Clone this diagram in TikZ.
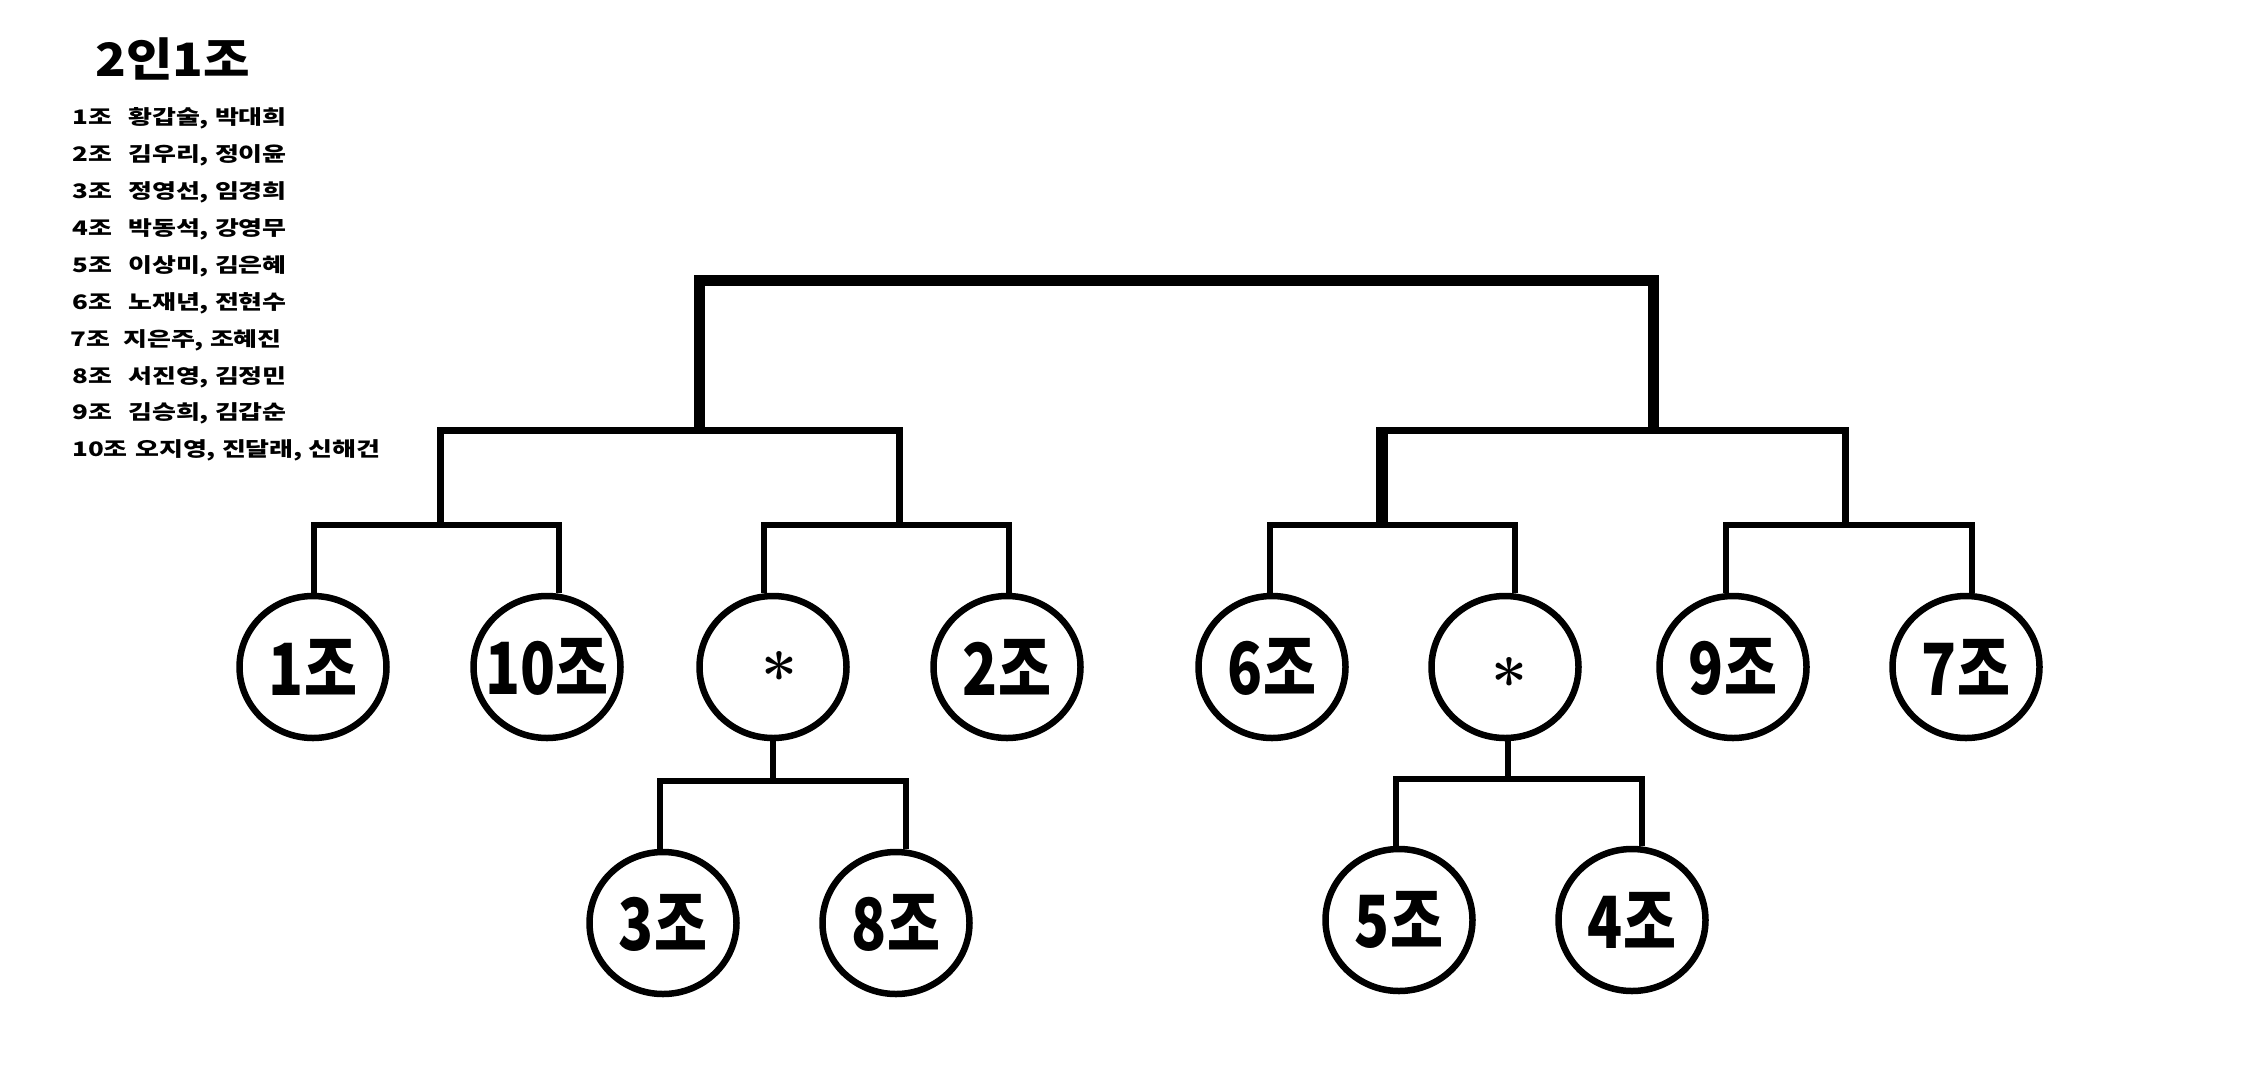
\documentclass[tikz,border=0pt]{standalone}
\usepackage{fontspec}
\usetikzlibrary{shapes.geometric}
\newfontfamily\krlist{Noto Sans CJK KR}[FakeStretch=1.3]
\newfontfamily\krtitle{Noto Sans CJK KR}[FakeStretch=1.1]
\newfontfamily\krcirc{Noto Sans CJK KR}[FakeStretch=0.8]
\newcommand{\tlabel}[1]{\makebox[0pt][c]{#1}}
\begin{document}
\begin{tikzpicture}[x=1pt,y=-1pt,
  team/.style={ellipse, draw, line width=6.5pt, minimum width=147pt, minimum height=142pt,
    inner sep=0pt, font=\krcirc\bfseries\fontsize{72pt}{72pt}\selectfont},
  startext/.style={inner sep=0pt, font=\bfseries\fontsize{64pt}{64pt}\selectfont},
  lvlone/.style={line width=11pt, line join=miter},
  lvltwo/.style={line width=7pt, line join=miter},
  lvlthree/.style={line width=6pt, line join=miter},
  listline/.style={anchor=west, inner sep=0pt, font=\krlist\bfseries\fontsize{20pt}{20pt}\selectfont},
  titletext/.style={anchor=base west, inner sep=0pt, font=\krtitle\bfseries\fontsize{46pt}{46pt}\selectfont}]
\useasboundingbox (0,0) rectangle (2263,1080);
\fill[white] (0,0) rectangle (2263,1080);

% title and list
\node[titletext] (title) at (95,76) {2인1조};
\node[listline] (l1) at (72,118) {\makebox[56pt][l]{1조}황갑술, 박대희};
\node[listline] (l2) at (72,155) {\makebox[56pt][l]{2조}김우리, 정이윤};
\node[listline] (l3) at (72,192) {\makebox[56pt][l]{3조}정영선, 임경희};
\node[listline] (l4) at (72,229) {\makebox[56pt][l]{4조}박동석, 강영무};
\node[listline] (l5) at (72,266) {\makebox[56pt][l]{5조}이상미, 김은혜};
\node[listline] (l6) at (72,303) {\makebox[56pt][l]{6조}노재년, 전현수};
\node[listline] (l7) at (70,340) {\makebox[53pt][l]{7조}지은주, 조혜진};
\node[listline] (l8) at (72,377) {\makebox[56pt][l]{8조}서진영, 김정민};
\node[listline] (l9) at (72,413) {\makebox[56pt][l]{9조}김승희, 김갑순};
\node[listline] (l10) at (72,450) {\makebox[63pt][l]{10조}오지영, 진달래, 신해건};

% team nodes
\node[team] (n1) at (313,667) {\tlabel{1조}};
\node[team] (n10) at (547,667) {\tlabel{10조}};
\node[team] (s1) at (773,667) {};
\node[team] (n2) at (1007,667) {\tlabel{2조}};
\node[team] (n6) at (1272,667) {\tlabel{6조}};
\node[team] (s2) at (1505,667) {};
\node[team] (n9) at (1733,667) {\tlabel{9조}};
\node[team] (n7) at (1966,667) {\tlabel{7조}};
\node[team] (n3) at (663,923) {\tlabel{3조}};
\node[team] (n8) at (896,923) {\tlabel{8조}};
\node[team] (n5) at (1399,920) {\tlabel{5조}};
\node[team] (n4) at (1632,920) {\tlabel{4조}};
\node[startext] (st1) at ([shift={(7,8)}]s1.center) {*};
\node[startext] (st2) at ([shift={(4,14)}]s2.center) {*};

% junctions
\coordinate (T1) at (699.5,430);
\coordinate (T2) at (1653,430);
\coordinate (LA) at (440,525);
\coordinate (LB) at (899,525);
\coordinate (RC) at (1382,525);
\coordinate (RD) at (1845,525);
\coordinate (BL) at (773,781);
\coordinate (BR) at (1508,779);

% top level
\draw[lvlone] (T1) -- ++(0,-150) -| (T2);
% second level
\draw[lvltwo] (LA) -- ++(0,-95) -| (LB);
\draw[lvltwo] (RC) -- ++(0,-95) -| (RD);
\draw[line width=12pt] (RC) -- ++(0,-98.5);
% third level
\draw[lvlthree] ([xshift=1pt]n1.north) |- (LA) -| ([xshift=12pt]n10.north);
\draw[lvlthree] ([xshift=-9pt]s1.north) |- (LB) -| ([xshift=2pt]n2.north);
\draw[lvlthree] ([xshift=-2pt]n6.north) |- (RC) -| ([xshift=10pt]s2.north);
\draw[lvlthree] ([xshift=-7pt]n9.north) |- (RD) -| ([xshift=6pt]n7.north);
% bottom level
\draw[lvlthree] (s1.south) -- (BL);
\draw[lvlthree] ([xshift=-3pt]n3.north) |- (BL) -| ([xshift=10pt]n8.north);
\draw[lvlthree] ([xshift=3pt]s2.south) -- (BR);
\draw[lvlthree] ([xshift=-3pt]n5.north) |- (BR) -| ([xshift=10pt]n4.north);
\end{tikzpicture}
\end{document}
